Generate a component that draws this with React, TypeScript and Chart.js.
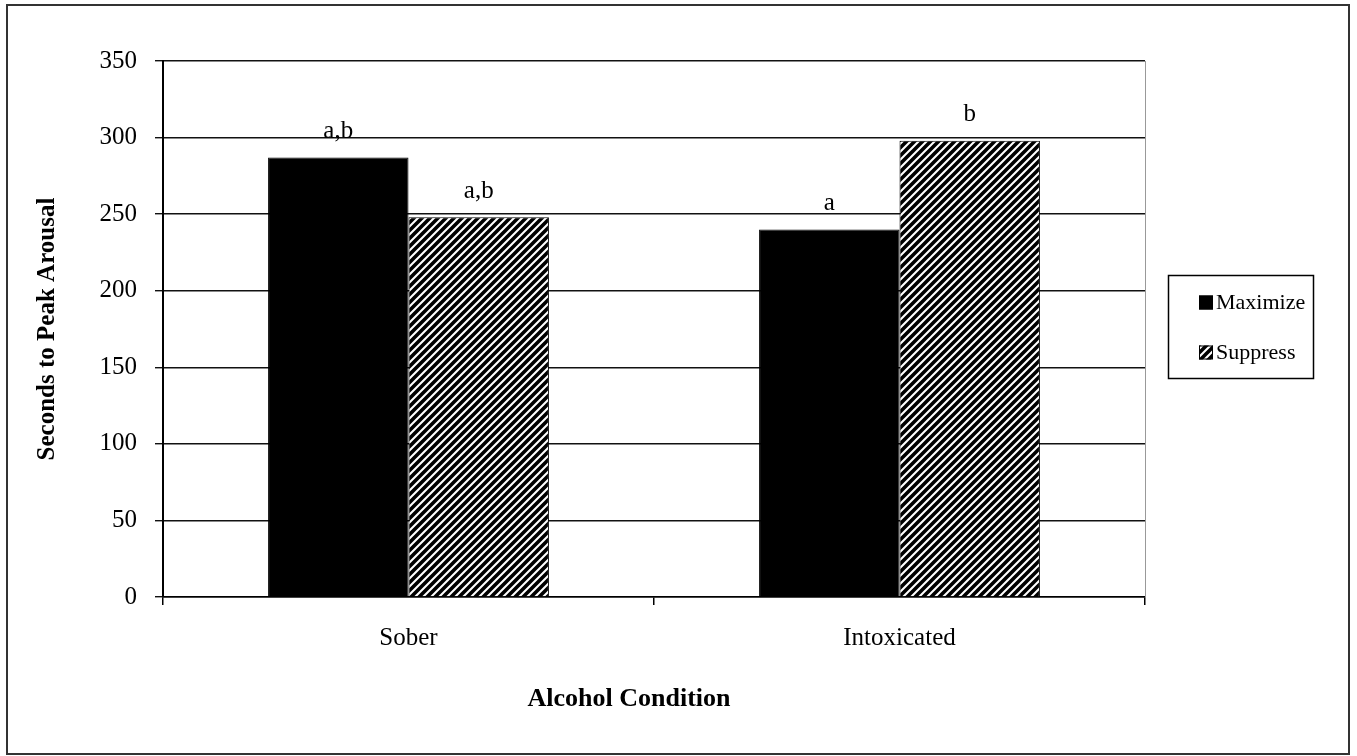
import React, { useEffect, useRef } from "react";
import { Chart, registerables } from "chart.js";

Chart.register(...registerables);

const categories = ["Sober", "Intoxicated"];
const seriesNames = ["Maximize", "Suppress"];
const maximizeValues = [287, 240];
const suppressValues = [248, 298];
const maximizeLabels = ["a,b", "a"];
const suppressLabels = ["a,b", "b"];
const yTicks = [0, 50, 100, 150, 200, 250, 300, 350];
const yTitle = "Seconds to Peak Arousal";
const xTitle = "Alcohol Condition";

const FONT = '"Liberation Serif", "Times New Roman", serif';

function makeHatch(): CanvasPattern | string {
  const s = 8;
  const c = document.createElement("canvas");
  c.width = s;
  c.height = s;
  const g = c.getContext("2d");
  if (!g) return "#555";
  g.fillStyle = "#fff";
  g.fillRect(0, 0, s, s);
  g.strokeStyle = "#000";
  g.lineWidth = 3.6;
  g.beginPath();
  g.moveTo(-1, s + 1);
  g.lineTo(s + 1, -1);
  g.moveTo(-s / 2 - 1, s / 2 + 1);
  g.lineTo(s / 2 + 1, -s / 2 - 1);
  g.moveTo(s / 2 - 1, s * 1.5 + 1);
  g.lineTo(s * 1.5 + 1, s / 2 - 1);
  g.stroke();
  const p = g.createPattern(c, "repeat");
  return p || "#555";
}

export default function App() {
  const ref = useRef<HTMLCanvasElement | null>(null);

  useEffect(() => {
    document.body.style.margin = "0";
    const canvas = ref.current;
    if (!canvas) return;
    const hatch = makeHatch();
    const barLabels = [maximizeLabels, suppressLabels];

    const framePlugin = {
      id: "frame",
      beforeDraw(chart: any) {
        const ctx = chart.ctx;
        ctx.save();
        ctx.fillStyle = "#fff";
        ctx.fillRect(0, 0, chart.width, chart.height);
        ctx.strokeStyle = "#333";
        ctx.lineWidth = 2;
        ctx.strokeRect(7, 5, 1342, 749);
        ctx.restore();
      },
      afterDraw(chart: any) {
        const ctx = chart.ctx;
        const ca = chart.chartArea;
        ctx.save();
        // right plot border
        ctx.strokeStyle = "#999";
        ctx.lineWidth = 1;
        ctx.beginPath();
        ctx.moveTo(Math.round(ca.right) + 0.5, ca.top);
        ctx.lineTo(Math.round(ca.right) + 0.5, ca.bottom);
        ctx.stroke();

        // bar annotations
        ctx.fillStyle = "#000";
        ctx.font = `25px ${FONT}`;
        ctx.textAlign = "center";
        ctx.textBaseline = "middle";
        chart.data.datasets.forEach((ds: any, di: number) => {
          const meta = chart.getDatasetMeta(di);
          meta.data.forEach((bar: any, i: number) => {
            const t = barLabels[di][i];
            if (t) ctx.fillText(t, bar.x, bar.y - 26);
          });
        });

        // x axis title (offset left, as in the original)
        ctx.font = `bold 26px ${FONT}`;
        ctx.fillText(xTitle, 629, 699);

        // legend
        const lx = 1168, ly = 275, lw = 145, lh = 103;
        ctx.strokeStyle = "#000";
        ctx.lineWidth = 1.5;
        ctx.strokeRect(lx + 0.5, ly + 0.5, lw, lh);
        ctx.font = `22px ${FONT}`;
        ctx.textAlign = "left";
        ctx.textBaseline = "middle";
        chart.data.datasets.forEach((ds: any, di: number) => {
          const cy = 302.5 + di * 50;
          const sz = 14;
          ctx.fillStyle = ds.backgroundColor;
          ctx.fillRect(1199, cy - sz / 2, sz, sz);
          ctx.strokeStyle = "#000";
          ctx.lineWidth = 1;
          ctx.strokeRect(1199.5, cy - sz / 2 + 0.5, sz - 1, sz - 1);
          ctx.fillStyle = "#000";
          ctx.fillText(ds.label, 1216, cy + 1);
        });
        ctx.restore();
      },
    };

    const chart = new Chart(canvas, {
      type: "bar",
      data: {
        labels: categories,
        datasets: [
          {
            label: seriesNames[0],
            data: maximizeValues,
            backgroundColor: "#000",
            borderColor: "#000",
            borderWidth: 1,
          },
          {
            label: seriesNames[1],
            data: suppressValues,
            backgroundColor: hatch as any,
            borderColor: "#000",
            borderWidth: 1,
          },
        ],
      },
      options: {
        responsive: false,
        maintainAspectRatio: false,
        animation: false,
        events: [],
        datasets: {
          bar: { categoryPercentage: 0.572, barPercentage: 1.0 },
        },
        layout: { padding: { left: 20, right: 212, top: 61, bottom: 29 } },
        plugins: {
          legend: { display: false },
          tooltip: { enabled: false },
          title: { display: false },
        },
        scales: {
          x: {
            offset: true,
            grid: {
              offset: true,
              drawOnChartArea: false,
              drawTicks: true,
              tickLength: 8,
              color: "#000",
              lineWidth: 1.5,
            },
            border: { display: true, color: "#000", width: 1.5 },
            ticks: {
              color: "#000",
              font: { family: FONT, size: 25 },
              padding: 18,
            },
            title: { display: false },
            afterFit(scale: any) {
              scale.height = 130;
            },
          },
          y: {
            min: 0,
            max: 350,
            afterBuildTicks(scale: any) {
              scale.ticks = yTicks.map((v) => ({ value: v }));
            },
            grid: {
              drawOnChartArea: true,
              drawTicks: true,
              tickLength: 8,
              color: "#111",
              lineWidth: 1.4,
            },
            border: { display: true, color: "#000", width: 2 },
            ticks: {
              color: "#000",
              font: { family: FONT, size: 25 },
              padding: 18,
            },
            title: {
              display: true,
              text: yTitle,
              color: "#000",
              font: { family: FONT, size: 25, weight: "bold" },
              padding: { top: 13, bottom: 0 },
            },
            afterFit(scale: any) {
              scale.width = 143;
            },
          },
        },
      },
      plugins: [framePlugin],
    });

    return () => chart.destroy();
  }, []);

  return (
    <div style={{ width: 1357, height: 756 }}>
      <canvas ref={ref} width={1357} height={756} style={{ display: "block" }} />
    </div>
  );
}
